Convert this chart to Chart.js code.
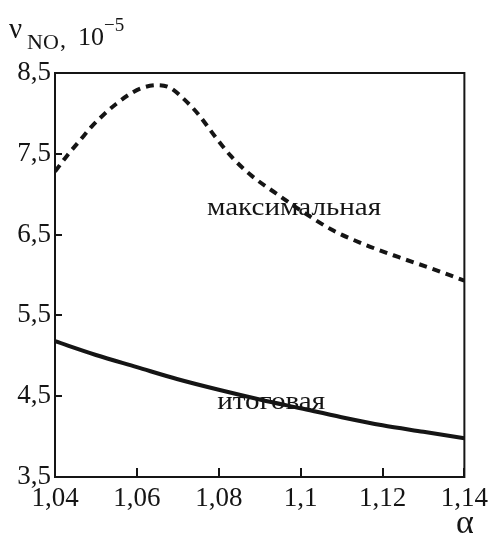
<!DOCTYPE html>
<html>
<head>
<meta charset="utf-8">
<script src="https://cdn.jsdelivr.net/npm/chart.js@4"></script>
<style>
  html, body { margin: 0; padding: 0; background: #fff; }
  #wrap { width: 494px; height: 538px; position: relative; }
</style>
</head>
<body>
<div id="wrap"><canvas id="chart"></canvas></div>
<script>
// axis ticks
const xTicks = [1.04, 1.06, 1.08, 1.1, 1.12, 1.14];
const yTicks = [3.5, 4.5, 5.5, 6.5, 7.5, 8.5];

// "максимальная" (dashed)
const maxAlpha = [1.04, 1.043, 1.046, 1.049, 1.052, 1.055, 1.058, 1.061, 1.065, 1.068, 1.071, 1.075, 1.079, 1.083, 1.088, 1.094, 1.1, 1.108, 1.116, 1.124, 1.132, 1.14];
const maxValues = [7.28, 7.48, 7.66, 7.84, 7.99, 8.12, 8.23, 8.31, 8.35, 8.32, 8.20, 7.99, 7.72, 7.47, 7.23, 7.01, 6.80, 6.55, 6.37, 6.22, 6.08, 5.93];

// "итоговая" (solid)
const totalAlpha = [1.04, 1.05, 1.06, 1.07, 1.08, 1.09, 1.1, 1.11, 1.12, 1.13, 1.14];
const totalValues = [5.18, 5.01, 4.86, 4.71, 4.58, 4.46, 4.35, 4.24, 4.14, 4.06, 3.98];

// curve captions, placed in data coordinates
const captions = [
    { text: 'максимальная', x: 1.0984, y: 6.83 },
    { text: 'итоговая', x: 1.0928, y: 4.42 }
];

const SERIF = '"Liberation Serif", "DejaVu Serif", serif';
const INK = '#151515';

const fmt = v => String(Math.round(v * 100) / 100).replace('.', ',');
const toPoints = (xs, ys) => xs.map((x, i) => ({ x: x, y: ys[i] }));

const framePlugin = {
    id: 'frame',
    afterDatasetsDraw(chart) {
        const ctx = chart.ctx;
        const { x, y } = chart.scales;
        ctx.save();
        ctx.fillStyle = INK;
        ctx.font = '26px ' + SERIF;
        ctx.textAlign = 'center';
        ctx.textBaseline = 'middle';
        captions.forEach(c => {
            // the original lettering is a bit wider than Liberation Serif
            ctx.save();
            ctx.translate(x.getPixelForValue(c.x), y.getPixelForValue(c.y));
            ctx.scale(1.12, 1);
            ctx.fillText(c.text, 0, 0);
            ctx.restore();
        });
        ctx.restore();
    },
    afterDraw(chart) {
        const ctx = chart.ctx;
        const a = chart.chartArea;
        const { x, y } = chart.scales;
        ctx.save();
        ctx.strokeStyle = INK;
        ctx.lineWidth = 2;
        ctx.strokeRect(a.left, a.top, a.right - a.left, a.bottom - a.top);

        // inward ticks
        ctx.beginPath();
        x.ticks.forEach(t => {
            const px = Math.round(x.getPixelForValue(t.value));
            ctx.moveTo(px, a.bottom);
            ctx.lineTo(px, a.bottom - 9);
        });
        y.ticks.forEach(t => {
            const py = Math.round(y.getPixelForValue(t.value));
            ctx.moveTo(a.left, py);
            ctx.lineTo(a.left + 7, py);
        });
        ctx.stroke();

        // y axis title: ν_NO, 10^-5
        ctx.fillStyle = INK;
        ctx.textAlign = 'left';
        ctx.textBaseline = 'alphabetic';
        ctx.font = '29px ' + SERIF;
        ctx.fillText('ν', 9, 38);
        ctx.font = '22px ' + SERIF;
        ctx.fillText('NO', 27, 49);
        ctx.font = '24px ' + SERIF;
        ctx.fillText(',', 60, 47);
        ctx.font = '26px ' + SERIF;
        ctx.fillText('10', 78, 45);
        ctx.font = '19px ' + SERIF;
        ctx.fillText('−5', 104, 31);

        // x axis title
        ctx.font = '34px ' + SERIF;
        ctx.textAlign = 'center';
        ctx.fillText('α', 465, 533);
        ctx.restore();
    }
};

new Chart(document.getElementById('chart'), {
    type: 'line',
    data: {
        datasets: [
            {
                label: 'максимальная',
                data: toPoints(maxAlpha, maxValues),
                borderColor: INK,
                borderWidth: 4,
                borderDash: [8, 6],
                pointRadius: 0,
                cubicInterpolationMode: 'monotone',
                fill: false
            },
            {
                label: 'итоговая',
                data: toPoints(totalAlpha, totalValues),
                borderColor: INK,
                borderWidth: 4,
                pointRadius: 0,
                cubicInterpolationMode: 'monotone',
                fill: false
            }
        ]
    },
    options: {
        responsive: true,
        maintainAspectRatio: false,
        animation: false,
        layout: { padding: { top: 73, right: 28, left: 0, bottom: 0 } },
        plugins: { legend: { display: false }, tooltip: { enabled: false } },
        scales: {
            x: {
                type: 'linear',
                min: 1.04,
                max: 1.14,
                afterBuildTicks: s => { s.ticks = xTicks.map(v => ({ value: v })); },
                afterFit: s => { s.height = 61; },
                grid: { display: false, drawTicks: false },
                border: { display: false },
                ticks: {
                    autoSkip: false,
                    maxRotation: 0,
                    padding: 6,
                    color: INK,
                    font: { family: SERIF, size: 27 },
                    callback: v => fmt(v)
                }
            },
            y: {
                type: 'linear',
                min: 3.5,
                max: 8.5,
                afterBuildTicks: s => { s.ticks = yTicks.map(v => ({ value: v })); },
                afterFit: s => { s.width = 55; },
                grid: { display: false, drawTicks: false },
                border: { display: false },
                ticks: {
                    padding: 4,
                    color: INK,
                    font: { family: SERIF, size: 27 },
                    callback: v => fmt(v)
                }
            }
        }
    },
    plugins: [framePlugin]
});
</script>
</body>
</html>
